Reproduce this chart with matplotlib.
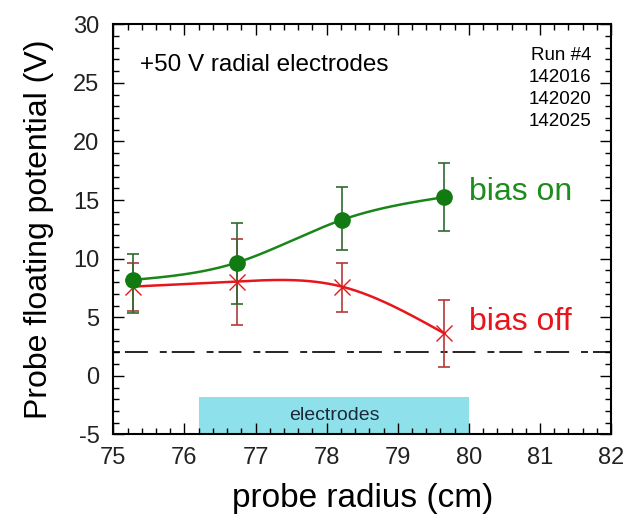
import numpy as np
import matplotlib
matplotlib.use("Agg")
import matplotlib.pyplot as plt
from matplotlib.ticker import MultipleLocator
from matplotlib.patches import Rectangle

plt.rcParams['font.family'] = ['Liberation Sans', 'DejaVu Sans']
plt.rcParams['lines.scale_dashes'] = False
plt.rcParams['axes.unicode_minus'] = False

# data
radius = [75.28, 76.74, 78.21, 79.65]
bias_on = [8.19, 9.67, 13.3, 15.25]
bias_on_err_lo = [2.84, 3.5, 2.6, 2.9]
bias_on_err_hi = [2.2, 3.4, 2.8, 2.9]
bias_off = [7.62, 8.05, 7.62, 3.64]
bias_off_err_lo = [2.05, 3.7, 2.2, 2.9]
bias_off_err_hi = [2.05, 3.6, 2.05, 2.85]
baseline = 2.0
electrode_span = [76.21, 80.0]
electrode_top = -1.8
run_labels = ["Run #4", "142016", "142020", "142025"]


def natural_spline(x, y, xs):
    x = np.asarray(x, float)
    y = np.asarray(y, float)
    n = len(x)
    h = np.diff(x)
    A = np.zeros((n, n))
    b = np.zeros(n)
    A[0, 0] = 1
    A[-1, -1] = 1
    for i in range(1, n - 1):
        A[i, i - 1] = h[i - 1]
        A[i, i] = 2 * (h[i - 1] + h[i])
        A[i, i + 1] = h[i]
        b[i] = 6 * ((y[i + 1] - y[i]) / h[i] - (y[i] - y[i - 1]) / h[i - 1])
    M = np.linalg.solve(A, b)
    idx = np.clip(np.searchsorted(x, xs) - 1, 0, n - 2)
    x0, x1 = x[idx], x[idx + 1]
    hh = x1 - x0
    t0 = x1 - xs
    t1 = xs - x0
    return (M[idx] * t0 ** 3 / (6 * hh) + M[idx + 1] * t1 ** 3 / (6 * hh)
            + (y[idx] / hh - M[idx] * hh / 6) * t0
            + (y[idx + 1] / hh - M[idx + 1] * hh / 6) * t1)


fig = plt.figure(figsize=(6.44, 5.16), dpi=100)
ax = fig.add_axes([0.176, 0.158, 0.773, 0.795])

green = "#1a861a"
green_err = "#2f6a2f"
red = "#e8161c"
red_err = "#b23a3a"

xs = np.linspace(radius[0], radius[-1], 300)
ax.plot(xs, natural_spline(radius, bias_off, xs), color=red, lw=1.8, zorder=3)
ax.plot(xs, natural_spline(radius, bias_on, xs), color=green, lw=1.8, zorder=3)

ax.errorbar(radius, bias_off, yerr=[bias_off_err_lo, bias_off_err_hi], fmt='none',
            ecolor=red_err, elinewidth=1.2, capsize=4, capthick=1.2, zorder=4)
ax.errorbar(radius, bias_on, yerr=[bias_on_err_lo, bias_on_err_hi], fmt='none',
            ecolor=green_err, elinewidth=1.2, capsize=4, capthick=1.2, zorder=4)
ax.plot(radius, bias_off, linestyle='none', marker='x', ms=11, mew=1.0, color=red, zorder=5)
ax.plot(radius, bias_on, linestyle='none', marker='o', ms=11, color="#127a12", zorder=6)

ax.axhline(baseline, color='black', lw=1.2, dashes=(5, 3.6, 16.5, 8.6), zorder=2)

ax.add_patch(Rectangle((electrode_span[0], -5), electrode_span[1] - electrode_span[0],
                       electrode_top + 5, facecolor="#8ee1ea", edgecolor='none', zorder=1))
ax.text(sum(electrode_span) / 2, -3.4, "electrodes", ha='center', va='center',
        fontsize=14, color="#1a2a3a", zorder=2)

ax.text(80.0, 15.7, "bias on", color="#1e8c1e", fontsize=23, ha='left', va='center')
ax.text(80.0, 4.6, "bias off", color=red, fontsize=23, ha='left', va='center')
ax.text(75.37, 26.5, "+50 V radial electrodes", fontsize=17.5, ha='left', va='center')
for i, s in enumerate(run_labels):
    ax.text(81.72, 27.3 - i * 1.87, s, fontsize=13.5, ha='right', va='center')

ax.set_xlim(75, 82)
ax.set_ylim(-5, 30)
ax.xaxis.set_major_locator(MultipleLocator(1))
ax.xaxis.set_minor_locator(MultipleLocator(0.2))
ax.yaxis.set_major_locator(MultipleLocator(5))
ax.yaxis.set_minor_locator(MultipleLocator(1))
ax.tick_params(which='both', direction='in', top=True, right=True, labelsize=17, width=1.0,
               labelcolor="#222222")
ax.tick_params(which='major', length=8)
ax.tick_params(axis='x', which='major', pad=9)
ax.tick_params(axis='y', which='major', pad=10)
ax.tick_params(which='minor', length=4)
for sp in ax.spines.values():
    sp.set_linewidth(1.5)

ax.set_xlabel("probe radius (cm)", fontsize=24, labelpad=10)
ax.set_ylabel("Probe floating potential (V)", fontsize=23, labelpad=14)

fig.savefig("out.png", dpi=100)
